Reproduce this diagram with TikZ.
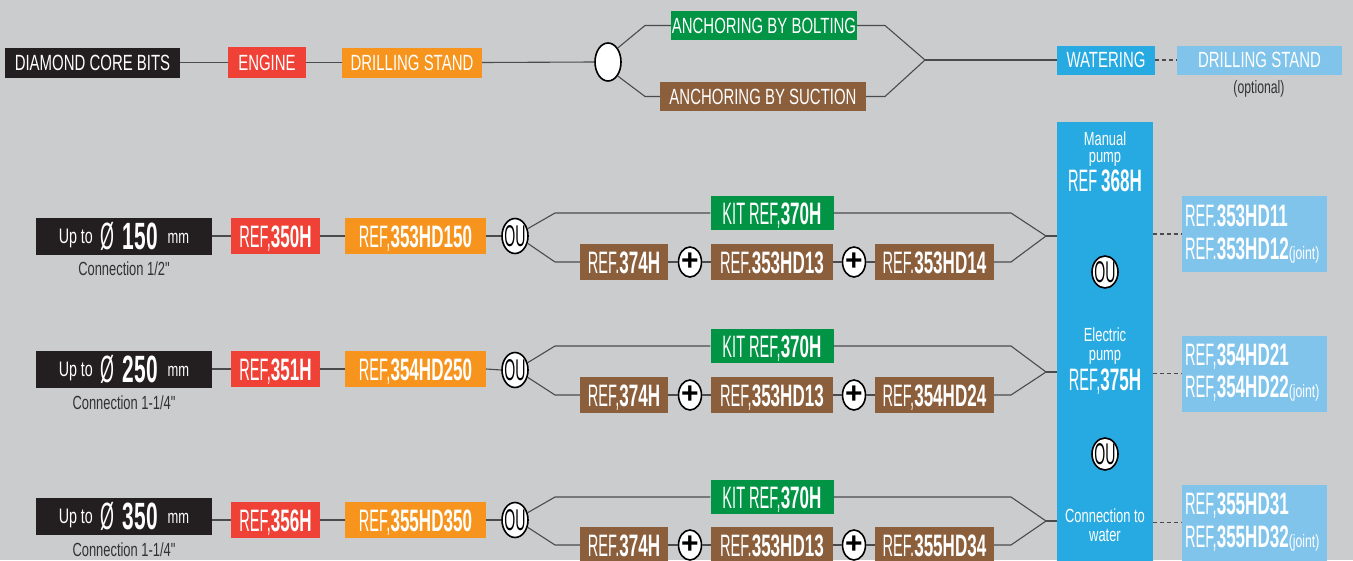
\documentclass[tikz,border=0pt]{standalone}
\usepackage{fontspec}
\setmainfont{Liberation Sans}
\newfontfamily\nfont{Liberation Sans}[FakeStretch=0.68]
\newfontfamily\cfont{Liberation Sans}[FakeStretch=0.47]
\newfontfamily\cbfont{Liberation Sans Bold}[FakeStretch=0.55]
\newfontfamily\pfont{Liberation Sans Bold}
\usetikzlibrary{shapes.geometric}
\definecolor{bgc}{RGB}{203,204,206}
\definecolor{cblack}{RGB}{35,31,32}
\definecolor{cred}{RGB}{239,65,54}
\definecolor{corange}{RGB}{247,148,29}
\definecolor{cgreen}{RGB}{0,148,68}
\definecolor{cbrown}{RGB}{139,94,60}
\definecolor{cblue}{RGB}{39,170,225}
\definecolor{clblue}{RGB}{128,196,236}
\definecolor{linec}{RGB}{75,75,77}
\definecolor{textc}{RGB}{50,50,52}
\newcommand{\bn}[1]{{\cbfont #1}}
\newcommand{\blktext}[1]{\raisebox{6pt}{\nfont\fontsize{21}{21}\selectfont Up to}\hspace{8pt}{\cfont\fontsize{38}{38}\selectfont Ø}\hspace{8pt}{\cbfont\fontsize{38}{38}\selectfont #1}\hspace{10pt}\raisebox{6pt}{\nfont\fontsize{19}{19}\selectfont mm}}
\tikzset{
  lab/.style={rectangle, inner sep=0pt, text=white, font=\nfont\fontsize{22}{22}\selectfont, text height=15.8pt, text depth=0pt, minimum height=30pt},
  refbox/.style={rectangle, inner sep=0pt, text=white, font=\cfont\fontsize{31}{31}\selectfont, text height=22.2pt, text depth=0pt, minimum height=36pt},
  blkbox/.style={rectangle, fill=cblack, inner sep=0pt, text=white, minimum width=176pt, minimum height=37pt, text height=26pt, text depth=0pt},
  oue/.style={ellipse, draw=black, line width=1.6pt, fill=white, inner sep=0pt, minimum width=26pt, minimum height=35pt},
  outext/.style={inner sep=0pt, font=\cfont\fontsize{30}{30}\selectfont, text=black, text height=21.5pt, text depth=0pt},
  pluse/.style={ellipse, draw=black, line width=1.6pt, fill=white, inner sep=0pt, minimum width=23pt, minimum height=30pt},
  plust/.style={inner sep=0pt, font=\pfont\fontsize{30}{30}\selectfont, text=black},
  ln/.style={draw=linec, line width=1.1pt},
  dsh/.style={draw=linec, line width=1.1pt, dash pattern=on 4pt off 3pt},
  smalltxt/.style={inner sep=0pt, text=textc, font=\nfont\fontsize{19}{19}\selectfont},
  rbox/.style={rectangle, fill=clblue, minimum width=145pt, minimum height=76pt, inner sep=0pt},
  rtext/.style={anchor=base west, inner sep=0pt, text=white, font=\cfont\fontsize{31}{31}\selectfont},
  ptext/.style={anchor=base, inner sep=0pt, text=white, font=\nfont\fontsize{19}{19}\selectfont},
}
\begin{document}
\begin{tikzpicture}[x=1pt,y=-1pt]
\useasboundingbox (0,0) rectangle (1353,560);
\fill[bgc] (0,0) rectangle (1353,560);

% ---------- top row ----------
\node[lab, fill=cblack, minimum width=175pt] (dcb) at (92.5,62.5) {DIAMOND CORE BITS};
\node[lab, fill=cred, minimum width=78pt, minimum height=31pt] (eng) at (267,62.5) {ENGINE};
\node[lab, fill=corange, minimum width=140pt] (dst) at (412,62.5) {DRILLING STAND};
\node[ellipse, draw=black, line width=1.6pt, fill=white, minimum width=26pt, minimum height=38pt, inner sep=0pt] (c0) at (608,62) {};
\coordinate (tb1) at (645,25.5);
\coordinate (tb2) at (885,25.5);
\coordinate (tb3) at (645,96.5);
\coordinate (tb4) at (885,96.5);
\coordinate (tj) at (925,60);
\node[lab, fill=cgreen, minimum width=186pt, minimum height=29pt] (bolt) at (764,25.5) {ANCHORING BY BOLTING};
\node[lab, fill=cbrown, minimum width=206pt, minimum height=29pt] (suct) at (763,96.5) {ANCHORING BY SUCTION};
\node[lab, fill=cblue, minimum width=98pt, minimum height=29pt] (wat) at (1106,60) {WATERING};
\node[lab, fill=clblue, minimum width=165pt, minimum height=29pt] (ds2) at (1259.5,60) {DRILLING STAND};
\node[smalltxt, font=\nfont\fontsize{18}{18}\selectfont] (opt) at (1259,89) {(optional)};

\draw[ln] (dcb.east) -- (eng.west);
\draw[ln] (eng.east) -- (dst.west);
\draw[ln] (dst.east) -- (c0.west);
\draw[ln] (c0.north east) -- (tb1) -- (bolt.west);
\draw[ln] (bolt.east) -- (tb2) -- (tj);
\draw[ln] (c0.south east) -- (tb3) -- (suct.west);
\draw[ln] (suct.east) -- (tb4) -- (tj);
\draw[ln] (tj) -- (wat.west);
\draw[dsh] (wat.east) -- (ds2.west);

% ---------- pump column ----------
\node[rectangle, fill=cblue, minimum width=96pt, minimum height=450pt, inner sep=0pt] (pump) at (1105,347) {};
\node[ptext] (m1) at (1105,145) {Manual};
\node[ptext] (m2) at (1105,162) {pump};
\node[rtext, anchor=base] (m3) at (1105,191) {REF \bn{368H}};
\node[oue, minimum height=32pt] (pou1) at (1105,272) {};
\node[outext] (pou1t) at (pou1) {OU};
\node[ptext] (e1) at (1105,341) {Electric};
\node[ptext] (e2) at (1105,360) {pump};
\node[rtext, anchor=base] (e3) at (1105,390) {REF,\bn{375H}};
\node[oue, minimum height=32pt] (pou2) at (1105,454) {};
\node[outext] (pou2t) at (pou2) {OU};
\node[ptext] (w1) at (1105,522) {Connection to};
\node[ptext] (w2) at (1105,541) {water};

% ---------- right boxes ----------
\node[rbox] (rb1) at (1254.5,234) {};
\node[rtext] (rb1a) at (1185,226) {REF.\bn{353HD11}};
\node[rtext] (rb1b) at (1185,259) {REF.\bn{353HD12}{\nfont\fontsize{18}{18}\selectfont(joint)}};
\node[rbox] (rb2) at (1254.5,373.5) {};
\node[rtext] (rb2a) at (1185,365) {REF,\bn{354HD21}};
\node[rtext] (rb2b) at (1185,397) {REF,\bn{354HD22}{\nfont\fontsize{18}{18}\selectfont(joint)}};
\node[rbox] (rb3) at (1254.5,522.5) {};
\node[rtext] (rb3a) at (1185,514) {REF,\bn{355HD31}};
\node[rtext] (rb3b) at (1185,547) {REF,\bn{355HD32}{\nfont\fontsize{18}{18}\selectfont(joint)}};
\draw[dsh] (pump.east |- rb1) -- (rb1.west);
\draw[dsh] (pump.east |- rb2) -- (rb2.west);
\draw[dsh] (pump.east |- rb3) -- (rb3.west);

% ---------- row 1 ----------
\node[blkbox] (k1box) at (124,236) {\blktext{150}};
\node[smalltxt] (k1c) at (124,269) {Connection 1/2"};
\node[refbox, fill=cred, minimum width=89pt] (r1a) at (275.5,236) {REF,\bn{350H}};
\node[refbox, fill=corange, minimum width=141pt] (r1b) at (415.5,236) {REF,\bn{353HD150}};
\node[oue] (ou1) at (515,236) {};
\node[outext] (ou1t) at (ou1) {OU};
\coordinate (u1a) at (555,213);
\coordinate (u1b) at (1011,213);
\coordinate (l1a) at (555,262);
\coordinate (l1b) at (1011,262);
\coordinate (j1) at (1046,236);
\node[refbox, fill=cgreen, minimum width=123pt, minimum height=34pt] (kit1) at (772,213) {KIT REF,\bn{370H}};
\node[refbox, fill=cbrown, minimum width=88pt] (b1a) at (624,262) {REF.\bn{374H}};
\node[pluse] (p1a) at (690,262) {};
\node[plust] (p1at) at (p1a) {+};
\node[refbox, fill=cbrown, minimum width=122pt] (b1b) at (772,262) {REF.\bn{353HD13}};
\node[pluse] (p1b) at (854,262) {};
\node[plust] (p1bt) at (p1b) {+};
\node[refbox, fill=cbrown, minimum width=119pt] (b1c) at (934.5,262) {REF.\bn{353HD14}};
\draw[ln] (k1box.east) -- (r1a.west);
\draw[ln] (r1a.east) -- (r1b.west);
\draw[ln] (r1b.east) -- (ou1.west);
\draw[ln] (ou1.30) -- (u1a) -- (kit1.west);
\draw[ln] (kit1.east) -- (u1b) -- (j1);
\draw[ln] (ou1.-30) -- (l1a) -- (b1a.west);
\draw[ln] (b1a.east) -- (p1a.west);
\draw[ln] (p1a.east) -- (b1b.west);
\draw[ln] (b1b.east) -- (p1b.west);
\draw[ln] (p1b.east) -- (b1c.west);
\draw[ln] (b1c.east) -- (l1b) -- (j1);
\draw[ln] (j1) -- (j1 -| pump.west);

% ---------- row 2 ----------
\node[blkbox] (k2box) at (124,369) {\blktext{250}};
\node[smalltxt] (k2c) at (124,403) {Connection 1-1/4"};
\node[refbox, fill=cred, minimum width=89pt] (r2a) at (275.5,369) {REF,\bn{351H}};
\node[refbox, fill=corange, minimum width=141pt] (r2b) at (415.5,369) {REF,\bn{354HD250}};
\node[oue] (ou2) at (515,370) {};
\node[outext] (ou2t) at (ou2) {OU};
\coordinate (u2a) at (555,346);
\coordinate (u2b) at (1011,346);
\coordinate (l2a) at (555,395);
\coordinate (l2b) at (1011,395);
\coordinate (j2) at (1046,372);
\node[refbox, fill=cgreen, minimum width=123pt, minimum height=34pt] (kit2) at (772,346) {KIT REF,\bn{370H}};
\node[refbox, fill=cbrown, minimum width=88pt] (b2a) at (624,395) {REF,\bn{374H}};
\node[pluse] (p2a) at (690,395) {};
\node[plust] (p2at) at (p2a) {+};
\node[refbox, fill=cbrown, minimum width=122pt] (b2b) at (772,395) {REF,\bn{353HD13}};
\node[pluse] (p2b) at (854,395) {};
\node[plust] (p2bt) at (p2b) {+};
\node[refbox, fill=cbrown, minimum width=119pt] (b2c) at (934.5,395) {REF,\bn{354HD24}};
\draw[ln] (k2box.east) -- (r2a.west);
\draw[ln] (r2a.east) -- (r2b.west);
\draw[ln] (r2b.east) -- (ou2.west);
\draw[ln] (ou2.30) -- (u2a) -- (kit2.west);
\draw[ln] (kit2.east) -- (u2b) -- (j2);
\draw[ln] (ou2.-30) -- (l2a) -- (b2a.west);
\draw[ln] (b2a.east) -- (p2a.west);
\draw[ln] (p2a.east) -- (b2b.west);
\draw[ln] (b2b.east) -- (p2b.west);
\draw[ln] (p2b.east) -- (b2c.west);
\draw[ln] (b2c.east) -- (l2b) -- (j2);
\draw[ln] (j2) -- (j2 -| pump.west);

% ---------- row 3 ----------
\node[blkbox] (k3box) at (124,516) {\blktext{350}};
\node[smalltxt] (k3c) at (124,550) {Connection 1-1/4"};
\node[refbox, fill=cred, minimum width=89pt] (r3a) at (275.5,520) {REF,\bn{356H}};
\node[refbox, fill=corange, minimum width=141pt] (r3b) at (415.5,520) {REF,\bn{355HD350}};
\node[oue] (ou3) at (515,520) {};
\node[outext] (ou3t) at (ou3) {OU};
\coordinate (u3a) at (555,497);
\coordinate (u3b) at (1011,497);
\coordinate (l3a) at (555,545);
\coordinate (l3b) at (1011,545);
\coordinate (j3) at (1046,521);
\node[refbox, fill=cgreen, minimum width=123pt, minimum height=34pt] (kit3) at (772,497) {KIT REF,\bn{370H}};
\node[refbox, fill=cbrown, minimum width=88pt] (b3a) at (624,545) {REF.\bn{374H}};
\node[pluse] (p3a) at (690,545) {};
\node[plust] (p3at) at (p3a) {+};
\node[refbox, fill=cbrown, minimum width=122pt] (b3b) at (772,545) {REF.\bn{353HD13}};
\node[pluse] (p3b) at (854,545) {};
\node[plust] (p3bt) at (p3b) {+};
\node[refbox, fill=cbrown, minimum width=119pt] (b3c) at (934.5,545) {REF.\bn{355HD34}};
\draw[ln] (k3box.east |- r3a) -- (r3a.west);
\draw[ln] (r3a.east) -- (r3b.west);
\draw[ln] (r3b.east) -- (ou3.west);
\draw[ln] (ou3.30) -- (u3a) -- (kit3.west);
\draw[ln] (kit3.east) -- (u3b) -- (j3);
\draw[ln] (ou3.-30) -- (l3a) -- (b3a.west);
\draw[ln] (b3a.east) -- (p3a.west);
\draw[ln] (p3a.east) -- (b3b.west);
\draw[ln] (b3b.east) -- (p3b.west);
\draw[ln] (p3b.east) -- (b3c.west);
\draw[ln] (b3c.east) -- (l3b) -- (j3);
\draw[ln] (j3) -- (j3 -| pump.west);
\end{tikzpicture}
\end{document}
